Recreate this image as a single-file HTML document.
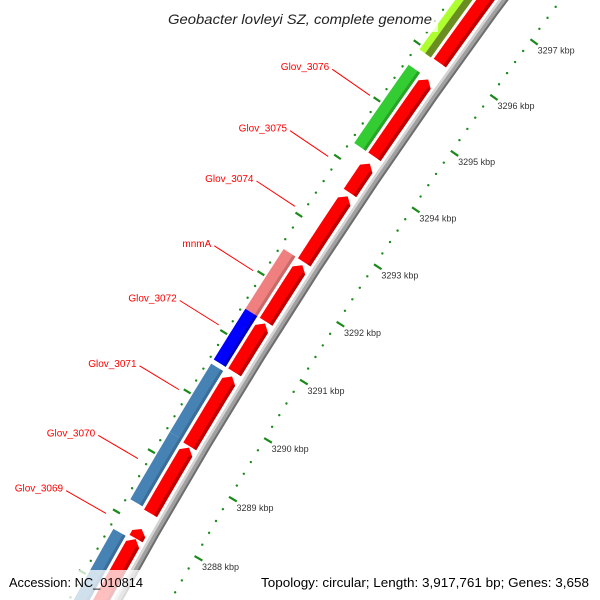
<!DOCTYPE html>
<html><head><meta charset="utf-8"><style>
html,body{margin:0;padding:0;background:#fff;width:600px;height:600px;overflow:hidden;}
svg{display:block;font-family:"Liberation Sans",sans-serif;}
</style></head><body>
<svg id="map" width="600" height="600" viewBox="0 0 600 600" xmlns="http://www.w3.org/2000/svg">
<rect width="600" height="600" fill="#fff"/>
<g id="rings"></g>
<g id="labels"></g>
<rect x="162" y="4" width="276" height="28" fill="#fff" fill-opacity="0.75"/>
<text x="168" y="24" font-size="14" font-style="italic" fill="#222" textLength="264" lengthAdjust="spacingAndGlyphs">Geobacter lovleyi SZ, complete genome</text>
<rect x="0" y="570" width="152" height="30" fill="#fff" fill-opacity="0.75"/>
<text x="9" y="587" font-size="13" fill="#000" textLength="134" lengthAdjust="spacingAndGlyphs">Accession: NC_010814</text>
<rect x="254" y="570" width="346" height="30" fill="#fff" fill-opacity="0.75"/>
<text x="261" y="587" font-size="13" fill="#000" textLength="328" lengthAdjust="spacingAndGlyphs">Topology: circular; Length: 3,917,761 bp; Genes: 3,658</text>
</svg>
<script>
// ---- data (kbp) ----
const fwdStarts = [3295.95, 3294.30, 3293.67, 3292.47, 3291.45, 3290.59, 3289.34, 3288.22, 3287.80, 3285.5];
const fwdEnds   = [3299.0, 3295.66, 3294.18, 3293.61, 3292.42, 3291.42, 3290.52, 3289.32, 3287.96, 3287.79];
const outStarts = [3295.94, 3294.30, 3291.45, 3290.59, 3289.37, 3288.25, 3285.5];
const outEnds   = [3299.0, 3295.67, 3292.47, 3291.45, 3290.52, 3289.37, 3287.76];
const outColors = ["#adff2f", "#33cc33", "#f08080", "#0000ff", "#4682b4", "#4682b4", "#4682b4"];
const outShades = ["#6b8e23", "#28a428", "#c86a6a", "#0000c0", "#3a6e98", "#3a6e98", "#3a6e98"];
const labelNames = ["Glov_3076", "Glov_3075", "Glov_3074", "mnmA", "Glov_3072", "Glov_3071", "Glov_3070", "Glov_3069"];
const labelPos   = [3294.99, 3293.93, 3293.07, 3291.97, 3291.05, 3289.96, 3288.81, 3287.90];
const majorTicks = [3286, 3287, 3288, 3289, 3290, 3291, 3292, 3293, 3294, 3295, 3296, 3297, 3298];
const tickLabels = ["3286 kbp","3287 kbp","3288 kbp","3289 kbp","3290 kbp","3291 kbp","3292 kbp","3293 kbp","3294 kbp","3295 kbp","3296 kbp","3297 kbp","3298 kbp"];

const NS = "http://www.w3.org/2000/svg";
const cx = 4956, cy = 3283;
function ang(p){ return (-150.2 + 0.7155 * (p - 3288)) * Math.PI / 180; }
function pt(p, r){ const a = ang(p); return [cx + r * Math.cos(a), cy + r * Math.sin(a)]; }
function arcPts(p1, p2, r){ const out = []; const n = 10; for (let i = 0; i <= n; i++){ out.push(pt(p1 + (p2 - p1) * i / n, r)); } return out; }
function bandPath(p1, p2, r1, r2){
  const a = arcPts(p1, p2, r2), b = arcPts(p2, p1, r1);
  return "M" + a.concat(b).map(q => q[0].toFixed(2) + "," + q[1].toFixed(2)).join("L") + "Z";
}
function arrowPath(p1, p2, r1, r2){
  const h = Math.min(0.09, (p2 - p1) * 0.5);
  const a = arcPts(p1, p2 - h, r2), b = arcPts(p2 - h, p1, r1);
  const tip = pt(p2, (r1 + r2) / 2);
  return "M" + a.concat([tip]).concat(b).map(q => q[0].toFixed(2) + "," + q[1].toFixed(2)).join("L") + "Z";
}
const rings = document.getElementById("rings");
const labels = document.getElementById("labels");
function mk(tag, attrs, parent){ const e = document.createElementNS(NS, tag); for (const k in attrs) e.setAttribute(k, attrs[k]); parent.appendChild(e); return e; }

// backbone
let bb = mk("path", {d: bandPath(3285, 3300, 5528, 5536), fill: "#a0a0a0"}, rings);


let bb2 = mk("path", {d: bandPath(3285, 3300, 5528, 5530), fill: "#6e6e6e"}, rings);


let bb3 = mk("path", {d: bandPath(3285, 3300, 5533.5, 5536), fill: "#d4d4d4"}, rings);



// forward genes
for (let i = 0; i < fwdStarts.length; i++){
  const g = mk("path", {d: arrowPath(fwdStarts[i], fwdEnds[i], 5539, 5554), fill: "#ff0000"}, rings);
  
  
  const h = Math.min(0.09, (fwdEnds[i] - fwdStarts[i]) * 0.5);
  const s = mk("path", {d: bandPath(fwdStarts[i], fwdEnds[i] - h, 5539, 5542.5), fill: "#c00000"}, rings);
  
  
}
// outer genes
for (let i = 0; i < outStarts.length; i++){
  const g = mk("path", {d: bandPath(outStarts[i], outEnds[i], 5557, 5571), fill: outColors[i]}, rings);
  
  
  const s = mk("path", {d: bandPath(outStarts[i], outEnds[i], 5557, i === 0 ? 5564 : 5560), fill: outShades[i]}, rings);
  
  
}
// ticks
for (let p = 3285.0; p <= 3299.01; p += 0.2){
  const q = Math.round(p * 10) / 10;
  if (Math.abs(q - Math.round(q)) < 1e-6) continue;
  const a = pt(q, 5486);
  const d1 = mk("circle", {cx: a[0], cy: a[1], r: 1.2, fill: "#1a8a1a"}, rings);
  
  
  const b = pt(q, 5575);
  const d2 = mk("circle", {cx: b[0], cy: b[1], r: 1.2, fill: "#1a8a1a"}, rings);
  
  
}
for (let i = 0; i < majorTicks.length; i++){
  const m = majorTicks[i];
  const a1 = pt(m, 5478), a2 = pt(m, 5487);
  const t = mk("line", {x1: a1[0], y1: a1[1], x2: a2[0], y2: a2[1], stroke: "#1a8a1a", "stroke-width": 2.2}, rings);
  
  
  const b1 = pt(m, 5573), b2 = pt(m, 5581);
  const t2 = mk("line", {x1: b1[0], y1: b1[1], x2: b2[0], y2: b2[1], stroke: "#1a8a1a", "stroke-width": 2.2}, rings);
  
  
  const c = pt(m, 5483);
  const tx = mk("text", {x: c[0] + 4, y: c[1] + 12, "font-size": 9, fill: "#333"}, rings);
  tx.textContent = tickLabels[i];
  
  
}
// gene labels
for (let i = 0; i < labelNames.length; i++){
  const a = pt(labelPos[i], 5585), b = pt(labelPos[i], 5631);
  const l = mk("line", {x1: a[0], y1: a[1], x2: b[0], y2: b[1], stroke: "#ff0000", "stroke-width": 1}, labels);
  
  
  const t = mk("text", {x: b[0] - 3, y: b[1] + 1, "font-size": 10, fill: "#ff0000", "text-anchor": "end"}, labels);
  t.textContent = labelNames[i];
  
  
}
</script>
</body></html>
